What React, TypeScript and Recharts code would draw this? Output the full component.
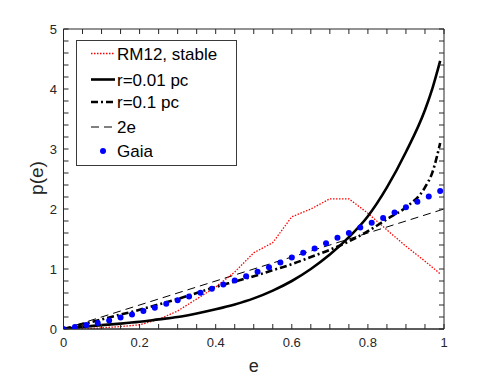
import React from "react";
import {
  ComposedChart,
  Line,
  Scatter,
  XAxis,
  YAxis,
  Legend,
  Label,
} from "recharts";

// tick positions: all (for the inner tick marks) and labelled majors
const xTicks = [
  0, 0.05, 0.1, 0.15, 0.2, 0.25, 0.3, 0.35, 0.4, 0.45, 0.5,
  0.55, 0.6, 0.65, 0.7, 0.75, 0.8, 0.85, 0.9, 0.95, 1,
];
const yTicks = [
  0, 0.2, 0.4, 0.6, 0.8, 1, 1.2, 1.4, 1.6, 1.8, 2, 2.2, 2.4, 2.6, 2.8, 3,
  3.2, 3.4, 3.6, 3.8, 4, 4.2, 4.4, 4.6, 4.8, 5,
];
const xMajor = [0, 0.2, 0.4, 0.6, 0.8, 1];
const yMajor = [0, 1, 2, 3, 4, 5];

// model curves
const eModel = [
  0, 0.05, 0.1, 0.15, 0.2, 0.25, 0.3, 0.35, 0.4, 0.45, 0.5,
  0.55, 0.6, 0.65, 0.7, 0.75, 0.8, 0.85, 0.9, 0.95, 0.97, 0.99,
];
const pR001 = [
  0, 0.035, 0.065, 0.09, 0.12, 0.16, 0.2, 0.26, 0.33, 0.41, 0.51,
  0.64, 0.8, 1.0, 1.24, 1.53, 1.88, 2.36, 2.95, 3.65, 4.02, 4.47,
];
const pR01 = [
  0, 0.08, 0.16, 0.24, 0.32, 0.41, 0.5, 0.6, 0.7, 0.79, 0.88,
  0.98, 1.08, 1.2, 1.32, 1.46, 1.63, 1.83, 2.03, 2.36, 2.62, 3.1,
];

// RM12, stable
const eRM12 = [
  0, 0.05, 0.1, 0.15, 0.2, 0.25, 0.3, 0.35, 0.4, 0.45, 0.5,
  0.55, 0.6, 0.65, 0.7, 0.75, 0.8, 0.85, 0.9, 0.95, 0.99,
];
const pRM12 = [
  0, 0, 0.02, 0.04, 0.07, 0.16, 0.3, 0.5, 0.7, 0.95, 1.27,
  1.44, 1.87, 2.0, 2.17, 2.17, 1.93, 1.65, 1.38, 1.13, 0.92,
];

// 2e
const eLin = [0, 1];
const pLin = [0, 2];

// Gaia
const eGaia = [
  0, 0.03, 0.06, 0.09, 0.12, 0.15, 0.18, 0.21, 0.24, 0.27, 0.3, 0.33,
  0.36, 0.39, 0.42, 0.45, 0.48, 0.51, 0.54, 0.57, 0.6, 0.63, 0.66, 0.69,
  0.72, 0.75, 0.78, 0.81, 0.84, 0.87, 0.9, 0.93, 0.96, 0.99,
];
const pGaia = [
  0, 0.033, 0.066, 0.1, 0.14, 0.19, 0.24, 0.3, 0.355, 0.42, 0.48, 0.54,
  0.605, 0.67, 0.74, 0.81, 0.88, 0.955, 1.03, 1.11, 1.19, 1.27, 1.34, 1.43,
  1.52, 1.6, 1.69, 1.77, 1.85, 1.94, 2.03, 2.12, 2.21, 2.3,
];

const zip = (xs: number[], ys: number[]) => xs.map((e, i) => ({ e, p: ys[i] }));

const FONT = "'Liberation Sans', Arial, Helvetica, sans-serif";
const AX = "#262626";

const legendRows = [
  { label: "RM12, stable", y: 13.5, kind: "dotted" },
  { label: "r=0.01 pc", y: 39.5, kind: "solid" },
  { label: "r=0.1 pc", y: 62, kind: "dashdot" },
  { label: "2e", y: 87, kind: "dashed" },
  { label: "Gaia", y: 111, kind: "dot" },
];

const LegendBox = () => (
  <svg width={161} height={126} style={{ display: "block" }}>
    <rect x={0.5} y={0.5} width={160} height={125} fill="#fff" stroke="#3a3a3a" strokeWidth={1} />
    {legendRows.map(r => (
      <g key={r.label}>
        {r.kind === "dotted" && (
          <line x1={15} x2={39} y1={r.y} y2={r.y} stroke="#ff0000" strokeWidth={1.3} strokeDasharray="1.5 1.5" />
        )}
        {r.kind === "solid" && (
          <line x1={15} x2={39} y1={r.y} y2={r.y} stroke="#000" strokeWidth={2.6} />
        )}
        {r.kind === "dashdot" && (
          <line x1={15} x2={39} y1={r.y} y2={r.y} stroke="#000" strokeWidth={2.6} strokeDasharray="7 3 2 3" />
        )}
        {r.kind === "dashed" && (
          <line x1={15} x2={39} y1={r.y} y2={r.y} stroke="#000" strokeWidth={1} strokeDasharray="8 5" />
        )}
        {r.kind === "dot" && <circle cx={27} cy={r.y} r={3} fill="#0000ff" />}
        <text x={41} y={r.y + 6} fontSize={17} fontFamily={FONT} fill="#000">
          {r.label}
        </text>
      </g>
    ))}
  </svg>
);

// shared props for the unlabelled, mirrored axes that draw the inner ticks
const innerX = {
  type: "number" as const,
  dataKey: "e",
  domain: [0, 1],
  ticks: xTicks,
  interval: 0,
  allowDataOverflow: true,
  mirror: true,
  height: 1,
  stroke: AX,
  tickSize: 5,
  tickFormatter: () => "",
};
const innerY = {
  type: "number" as const,
  domain: [0, 5],
  ticks: yTicks,
  interval: 0,
  allowDataOverflow: true,
  mirror: true,
  width: 1,
  stroke: AX,
  tickSize: 5,
  tickFormatter: () => "",
};

const App = () => {
  return (
    <div style={{ position: "absolute", left: 0, top: 0, background: "#fff" }}>
      <ComposedChart
        width={491}
        height={378}
        margin={{ top: 29, right: 47, left: 0, bottom: 0 }}
      >
        <XAxis
          xAxisId="b"
          dataKey="e"
          type="number"
          domain={[0, 1]}
          ticks={xMajor}
          interval={0}
          allowDataOverflow
          height={49}
          stroke={AX}
          tickLine={false}
          tickSize={0}
          tickMargin={9}
          tick={{ fontSize: 13, fontFamily: FONT, fill: AX }}
        >
          <Label
            content={({ viewBox }: any) => (
              <text
                x={viewBox.x + viewBox.width / 2}
                y={viewBox.y + 42.5}
                textAnchor="middle"
                fontSize={18}
                fontFamily={FONT}
                fill={AX}
              >
                e
              </text>
            )}
          />
        </XAxis>
        <XAxis xAxisId="bt" orientation="bottom" {...innerX} />
        <XAxis xAxisId="t" orientation="top" {...innerX} />
        <YAxis
          yAxisId="l"
          dataKey="p"
          type="number"
          domain={[0, 5]}
          ticks={yMajor}
          interval={0}
          allowDataOverflow
          width={63.5}
          stroke={AX}
          tickLine={false}
          tickSize={0}
          tickMargin={6.5}
          tick={{ fontSize: 13, fontFamily: FONT, fill: AX }}
        >
          <Label
            content={() => (
              <text
                x={43}
                y={178}
                transform="rotate(-90 43 178)"
                textAnchor="middle"
                fontSize={19}
                fontFamily={FONT}
                fill={AX}
              >
                p(e)
              </text>
            )}
          />
        </YAxis>
        <YAxis yAxisId="lt" orientation="left" {...innerY} />
        <YAxis yAxisId="r" orientation="right" {...innerY} />
        <Legend
          layout="horizontal"
          verticalAlign="middle"
          align="center"
          wrapperStyle={{ position: "absolute", left: 76, top: 40, width: 161, height: 126 }}
          content={() => <LegendBox />}
        />
        <Line
          xAxisId="b"
          yAxisId="l"
          data={zip(eLin, pLin)}
          dataKey="p"
          type="linear"
          stroke="#000"
          strokeWidth={1}
          strokeDasharray="8 5"
          dot={false}
          activeDot={false}
          isAnimationActive={false}
        />
        <Line
          xAxisId="b"
          yAxisId="l"
          data={zip(eRM12, pRM12)}
          dataKey="p"
          type="linear"
          stroke="#ff0000"
          strokeWidth={1.3}
          strokeDasharray="1.5 1.5"
          dot={false}
          activeDot={false}
          isAnimationActive={false}
        />
        <Line
          xAxisId="b"
          yAxisId="l"
          data={zip(eModel, pR001)}
          dataKey="p"
          type="monotone"
          stroke="#000"
          strokeWidth={2.6}
          dot={false}
          activeDot={false}
          isAnimationActive={false}
        />
        <Line
          xAxisId="b"
          yAxisId="l"
          data={zip(eModel, pR01)}
          dataKey="p"
          type="monotone"
          stroke="#000"
          strokeWidth={2.6}
          strokeDasharray="7 3 2 3"
          dot={false}
          activeDot={false}
          isAnimationActive={false}
        />
        <Scatter
          xAxisId="b"
          yAxisId="l"
          data={zip(eGaia, pGaia)}
          dataKey="p"
          fill="#0000ff"
          shape={(props: any) => <circle cx={props.cx} cy={props.cy} r={3} fill="#0000ff" />}
          isAnimationActive={false}
        />
      </ComposedChart>
    </div>
  );
};

export default App;
